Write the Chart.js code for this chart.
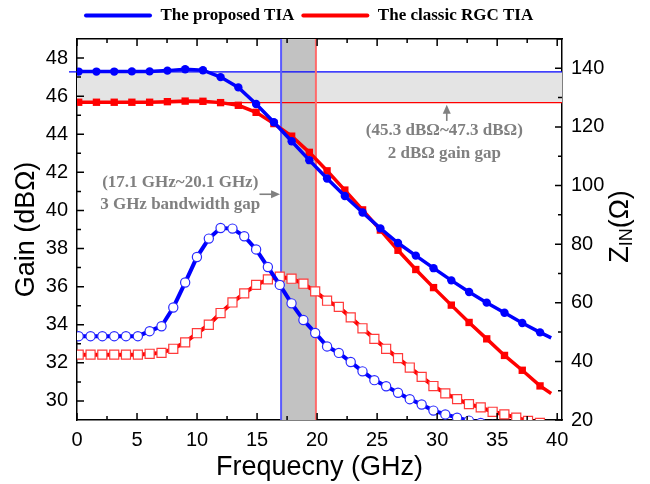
<!DOCTYPE html>
<html>
<head>
<meta charset="utf-8">
<script src="https://cdn.jsdelivr.net/npm/chart.js@4.4.1/dist/chart.umd.min.js"></script>
<style>
  html, body { margin: 0; padding: 0; background: #fff; }
</style>
</head>
<body>
<canvas id="myChart" width="650" height="484"></canvas>
<script>
// 이득(Gain) 곡선 - 채워진 마커 위치 (GHz), 마지막 점은 선 끝
const gainFreq = [0.14, 1.62, 3.10, 4.57, 6.05, 7.53, 9.01, 10.49, 11.96, 13.44, 14.92, 16.40, 17.88, 19.35,
  20.83, 22.31, 23.79, 25.27, 26.74, 28.22, 29.70, 31.18, 32.66, 34.13, 35.61, 37.09, 38.57, 39.5];
const gainProposed = [47.29, 47.29, 47.29, 47.30, 47.30, 47.34, 47.41, 47.36, 47.00, 46.46, 45.59, 44.63, 43.63, 42.64,
  41.68, 40.76, 39.89, 39.06, 38.29, 37.63, 36.97, 36.33, 35.72, 35.16, 34.63, 34.09, 33.60, 33.31];
const gainClassic = [45.68, 45.68, 45.68, 45.68, 45.68, 45.71, 45.74, 45.73, 45.66, 45.52, 45.15, 44.56, 43.90, 43.05,
  42.08, 41.07, 40.03, 38.97, 37.91, 36.90, 35.95, 35.03, 34.12, 33.26, 32.39, 31.61, 30.79, 30.39];

// 입력 임피던스 Z_IN 곡선 - 빈 마커 위치 (GHz)
const zinFreq = [0.14, 1.13, 2.11, 3.10, 4.08, 5.07, 6.05, 7.04, 8.02, 9.01, 9.99, 10.98, 11.96, 12.95,
  13.93, 14.92, 15.90, 16.89, 17.87, 18.86, 19.84, 20.83, 21.81, 22.80, 23.78, 24.77, 25.75, 26.74,
  27.72, 28.71, 29.69, 30.68, 31.66, 32.65, 33.63, 34.62, 35.60, 36.59, 37.57, 38.56];
const zinProposed = [48.6, 48.6, 48.6, 48.6, 48.6, 48.6, 50.3, 52.0, 58.4, 66.9, 75.6, 81.9, 85.5, 85.3,
  82.7, 78.2, 72.2, 66.1, 59.8, 54.1, 49.7, 45.1, 42.9, 39.8, 36.6, 33.6, 31.5, 29.3,
  27.1, 25.3, 23.2, 21.9, 20.8, 19.8, 19.0, 18.3];
const zinClassic = [42.3, 42.3, 42.3, 42.3, 42.3, 42.3, 42.6, 42.9, 44.3, 46.5, 49.6, 52.5, 56.5, 60.1,
  63.2, 66.1, 68.0, 68.9, 68.2, 66.5, 63.9, 60.7, 58.6, 55.0, 51.3, 47.7, 44.3, 41.1,
  37.9, 34.7, 31.6, 29.1, 27.1, 25.4, 24.3, 22.8, 21.9, 20.8, 19.7, 19.0];

// 축 눈금
const freqTicks = [0, 5, 10, 15, 20, 25, 30, 35, 40];
const gainTicks = [30, 32, 34, 36, 38, 40, 42, 44, 46, 48];
const zinTicks = [20, 40, 60, 80, 100, 120, 140];

const legendNames = ["The proposed TIA", "The classic RGC TIA"];
const legendColors = ["#0000ff", "#ff0000"];

// 기준선 (gain gap / bandwidth gap)
const gainGapTop = 47.27;
const gainGapBottom = 45.66;
const bwGapStart = 17.0;
const bwGapEnd = 19.9;

const toPoints = (xs, ys) => ys.map((y, i) => ({ x: xs[i], y: y }));
const lastHidden = (r) => (c) => (c.dataIndex === c.dataset.data.length - 1 ? 0 : r);

Chart.defaults.font.family = "'Liberation Sans', Arial, sans-serif";
Chart.defaults.color = "#000";

const serifBold = "bold 17px 'Liberation Serif', 'Times New Roman', serif";

function arrow(ctx, x1, y1, x2, y2) {
  const ang = Math.atan2(y2 - y1, x2 - x1);
  ctx.beginPath();
  ctx.moveTo(x1, y1);
  ctx.lineTo(x2 - 6 * Math.cos(ang), y2 - 6 * Math.sin(ang));
  ctx.stroke();
  ctx.beginPath();
  ctx.moveTo(x2, y2);
  ctx.lineTo(x2 - 9 * Math.cos(ang) + 4 * Math.sin(ang), y2 - 9 * Math.sin(ang) - 4 * Math.cos(ang));
  ctx.lineTo(x2 - 9 * Math.cos(ang) - 4 * Math.sin(ang), y2 - 9 * Math.sin(ang) + 4 * Math.cos(ang));
  ctx.closePath();
  ctx.fill();
}

// 배경 밴드와 기준선
const gapBands = {
  id: "gapBands",
  beforeDatasetsDraw(chart) {
    const { ctx, chartArea: a, scales } = chart;
    const x = scales.x, y = scales.y;
    const yTop = y.getPixelForValue(gainGapTop);
    const yBot = y.getPixelForValue(gainGapBottom);
    const x1 = x.getPixelForValue(bwGapStart);
    const x2 = x.getPixelForValue(bwGapEnd);
    ctx.save();
    ctx.fillStyle = "#e4e4e4";
    ctx.fillRect(a.left, yTop, a.right - a.left, yBot - yTop);
    ctx.fillStyle = "#c2c2c2";
    ctx.fillRect(x1, a.top, x2 - x1, a.bottom - a.top);
    ctx.lineWidth = 1.2;
    ctx.strokeStyle = "#0000ff";
    ctx.beginPath(); ctx.moveTo(a.left - 8, yTop); ctx.lineTo(a.right, yTop); ctx.stroke();
    ctx.strokeStyle = "#ff0000";
    ctx.beginPath(); ctx.moveTo(a.left, yBot); ctx.lineTo(a.right, yBot); ctx.stroke();
    ctx.lineWidth = 2;
    ctx.strokeStyle = "#5a5aff";
    ctx.beginPath(); ctx.moveTo(x1, a.top); ctx.lineTo(x1, a.bottom); ctx.stroke();
    ctx.strokeStyle = "#ff6a6a";
    ctx.beginPath(); ctx.moveTo(x2, a.top); ctx.lineTo(x2, a.bottom); ctx.stroke();
    ctx.restore();
  },
};

// 안쪽 눈금, 주석, 오른쪽 축 제목
const decorations = {
  id: "decorations",
  afterDraw(chart) {
    const { ctx, chartArea: a, scales } = chart;
    const x = scales.x, y = scales.y, y1 = scales.y1;
    ctx.save();
    ctx.strokeStyle = "#000";
    ctx.lineWidth = 1.5;
    ctx.beginPath();
    for (let v = 0; v <= 40; v += 2.5) {
      const px = x.getPixelForValue(v);
      const len = v % 5 === 0 ? 7 : 4;
      ctx.moveTo(px, a.bottom); ctx.lineTo(px, a.bottom - len);
      ctx.moveTo(px, a.top); ctx.lineTo(px, a.top + len);
    }
    for (let v = 30; v <= 48; v += 1) {
      const py = y.getPixelForValue(v);
      const len = v % 2 === 0 ? 7 : 4;
      ctx.moveTo(a.left, py); ctx.lineTo(a.left + len, py);
    }
    for (let v = 20; v <= 150; v += 10) {
      const py = y1.getPixelForValue(v);
      const len = v % 20 === 0 ? 7 : 4;
      ctx.moveTo(a.right, py); ctx.lineTo(a.right - len, py);
    }
    ctx.stroke();

    // 주석 텍스트
    ctx.fillStyle = "#808080";
    ctx.strokeStyle = "#808080";
    ctx.font = serifBold;
    ctx.textAlign = "center";
    ctx.textBaseline = "middle";
    ctx.fillText("(17.1 GHz~20.1 GHz)", x.getPixelForValue(8.6), y.getPixelForValue(41.45));
    ctx.fillText("3 GHz bandwidth gap", x.getPixelForValue(8.6), y.getPixelForValue(40.33));
    ctx.fillText("(45.3 dB\u03A9~47.3 dB\u03A9)", x.getPixelForValue(30.6), y.getPixelForValue(44.2));
    ctx.fillText("2 dB\u03A9 gain gap", x.getPixelForValue(30.6), y.getPixelForValue(43.0));
    ctx.lineWidth = 1.6;
    arrow(ctx, x.getPixelForValue(15.2), y.getPixelForValue(40.85), x.getPixelForValue(bwGapStart) - 1, y.getPixelForValue(40.85));
    arrow(ctx, x.getPixelForValue(30.8), y.getPixelForValue(44.7), x.getPixelForValue(30.8), y.getPixelForValue(gainGapBottom) + 2);

    // 오른쪽 축 제목 Z_IN(Ω)
    ctx.fillStyle = "#000";
    ctx.translate(621, (a.top + a.bottom) / 2 - 3);
    ctx.rotate(-Math.PI / 2);
    ctx.textAlign = "left";
    ctx.textBaseline = "middle";
    const big = "27px 'Liberation Sans', Arial, sans-serif";
    const small = "18px 'Liberation Sans', Arial, sans-serif";
    ctx.font = big; const wZ = ctx.measureText("Z").width; const wP = ctx.measureText("(\u03A9)").width;
    ctx.font = small; const wI = ctx.measureText("IN").width;
    let cx = -(wZ + wI + wP) / 2;
    ctx.font = big; ctx.fillText("Z", cx, 0); cx += wZ;
    ctx.font = small; ctx.fillText("IN", cx, 6); cx += wI;
    ctx.font = big; ctx.fillText("(\u03A9)", cx, 0);
    ctx.restore();
  },
};

const ctx = document.getElementById("myChart").getContext("2d");
const myChart = new Chart(ctx, {
  type: "line",
  data: {
    datasets: [
      {
        label: legendNames[0],
        data: toPoints(gainFreq, gainProposed),
        yAxisID: "y",
        borderColor: "#0000ff",
        backgroundColor: "#0000ff",
        borderWidth: 3.5,
        pointStyle: "circle",
        pointRadius: lastHidden(4.2),
        pointBorderWidth: 0,
      },
      {
        label: legendNames[1],
        data: toPoints(gainFreq, gainClassic),
        yAxisID: "y",
        borderColor: "#ff0000",
        backgroundColor: "#ff0000",
        borderWidth: 3.5,
        pointStyle: "rect",
        pointRadius: lastHidden(5.2),
        pointBorderWidth: 0,
      },
      {
        label: "Zin proposed",
        data: toPoints(zinFreq, zinProposed),
        yAxisID: "y1",
        borderColor: "#0000ff",
        backgroundColor: "#ffffff",
        pointBorderColor: "#2a2aff",
        borderWidth: 4,
        pointStyle: "circle",
        pointRadius: 4.6,
        pointBorderWidth: 1.2,
      },
      {
        label: "Zin classic",
        data: toPoints(zinFreq, zinClassic),
        yAxisID: "y1",
        borderColor: "#ff0000",
        backgroundColor: "#ffffff",
        pointBorderColor: "#ff3a3a",
        borderWidth: 4,
        pointStyle: "rect",
        pointRadius: 6.4,
        pointBorderWidth: 1.2,
      },
    ],
  },
  options: {
    responsive: false,
    animation: false,
    devicePixelRatio: 1,
    layout: { padding: 0 },
    plugins: {
      tooltip: { enabled: false },
      legend: {
        position: "top",
        align: "start",
        fullSize: false,
        labels: {
          font: { family: "'Liberation Serif', 'Times New Roman', serif", size: 17, weight: "bold" },
          color: "#000",
          boxWidth: 68,
          boxHeight: 4,
          padding: 7,
          generateLabels: () =>
            legendNames.map((t, i) => ({
              text: t,
              fillStyle: legendColors[i],
              strokeStyle: legendColors[i],
              lineWidth: 0,
              borderRadius: 2,
              datasetIndex: i,
              hidden: false,
            })),
        },
      },
    },
    scales: {
      x: {
        type: "linear",
        min: 0,
        max: 40.4,
        afterBuildTicks: (s) => { s.ticks = freqTicks.map((v) => ({ value: v })); },
        afterFit: (s) => { s.height = 64; },
        grid: { display: false, drawTicks: false },
        border: { display: true, color: "#000", width: 1.5 },
        ticks: { font: { size: 20 }, padding: 8, autoSkip: false, maxRotation: 0 },
        title: { display: true, text: "Frequecny (GHz)", font: { size: 27 }, padding: { top: 0, bottom: 0 } },
      },
      xTop: {
        type: "linear",
        position: "top",
        min: 0,
        max: 40.4,
        afterFit: (s) => { s.height = 5; },
        grid: { display: false, drawTicks: false },
        border: { display: true, color: "#000", width: 1.5 },
        ticks: { display: false },
      },
      y: {
        type: "linear",
        position: "left",
        min: 29,
        max: 49,
        afterBuildTicks: (s) => { s.ticks = gainTicks.map((v) => ({ value: v })); },
        afterFit: (s) => { s.width = 77; },
        grid: { display: false, drawTicks: false },
        border: { display: true, color: "#000", width: 1.5 },
        ticks: { font: { size: 20 }, padding: 9 },
        title: { display: true, text: "Gain (dB\u03A9)", font: { size: 27 }, padding: { top: 10, bottom: 0 } },
      },
      y1: {
        type: "linear",
        position: "right",
        min: 20,
        max: 150,
        afterBuildTicks: (s) => { s.ticks = zinTicks.map((v) => ({ value: v })); },
        afterFit: (s) => { s.width = 88; },
        grid: { display: false, drawTicks: false },
        border: { display: true, color: "#000", width: 1.5 },
        ticks: { font: { size: 20 }, padding: 9 },
      },
    },
  },
  plugins: [gapBands, decorations],
});
</script>
</body>
</html>
